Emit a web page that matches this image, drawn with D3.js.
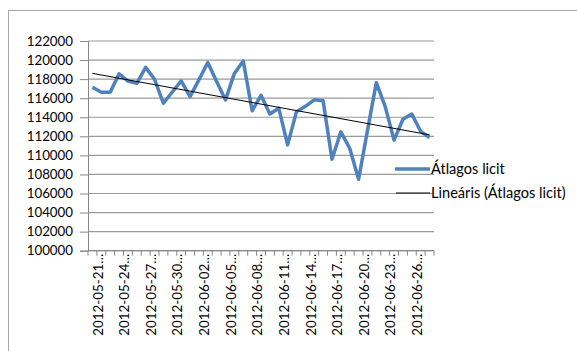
<!DOCTYPE html>
<html>
<head>
<meta charset="utf-8">
<script src="https://cdn.jsdelivr.net/npm/d3@7"></script>
<style>
  body { margin: 0; background: #fff; }
  svg { display: block; }
  text { font-family: Lato, "Open Sans", sans-serif; fill: #000; }
</style>
</head>
<body>
<script>
// napi dátumok 2012-05-21 .. 2012-06-28
const dates = [
  '2012-05-21', '2012-05-22', '2012-05-23', '2012-05-24', '2012-05-25', '2012-05-26',
  '2012-05-27', '2012-05-28', '2012-05-29', '2012-05-30', '2012-05-31', '2012-06-01',
  '2012-06-02', '2012-06-03', '2012-06-04', '2012-06-05', '2012-06-06', '2012-06-07',
  '2012-06-08', '2012-06-09', '2012-06-10', '2012-06-11', '2012-06-12', '2012-06-13',
  '2012-06-14', '2012-06-15', '2012-06-16', '2012-06-17', '2012-06-18', '2012-06-19',
  '2012-06-20', '2012-06-21', '2012-06-22', '2012-06-23', '2012-06-24', '2012-06-25',
  '2012-06-26', '2012-06-27', '2012-06-28'
];

const atlagosLicit = [
  117150, 116620, 116630, 118550, 117800, 117560, 119230, 117980, 115470, 116650,
  117810, 116170, 117920, 119740, 117740, 115820, 118600, 119900, 114680, 116300,
  114340, 114950, 111100, 114590, 115150, 115830, 115720, 109600, 112470, 110750,
  107500, 112600, 117630, 115120, 111600, 113790, 114340, 112500, 111880
];

const yTicks = [100000, 102000, 104000, 106000, 108000, 110000, 112000,
  114000, 116000, 118000, 120000, 122000];

const seriesName = 'Átlagos licit';
const trendName = 'Lineáris (Átlagos licit)';

const w = 577;
const h = 351;
const plotLeft = 88, plotRight = 434, plotTop = 41, plotBottom = 250.7;

const svg = d3.select('body').append('svg')
  .attr('width', w)
  .attr('height', h);

// külső keret
svg.append('rect')
  .attr('x', 8.5).attr('y', 10.5)
  .attr('width', 600).attr('height', 400)
  .attr('fill', 'none')
  .attr('stroke', '#a6a6a6')
  .attr('stroke-width', 1);

const x = d3.scaleBand()
  .domain(dates)
  .range([plotLeft, plotRight]);

const y = d3.scaleLinear()
  .domain([100000, 122000])
  .range([plotBottom, plotTop]);

// rácsvonalak
svg.append('g')
  .selectAll('line')
  .data(yTicks)
  .enter()
  .append('line')
  .attr('x1', plotLeft).attr('x2', plotRight)
  .attr('y1', d => y(d)).attr('y2', d => y(d))
  .attr('stroke', '#9a9a9a')
  .attr('stroke-width', 1.2);

const yAxis = d3.axisLeft(y)
  .tickValues(yTicks)
  .tickSize(8)
  .tickPadding(7)
  .tickFormat(d3.format('d'));

const gy = svg.append('g')
  .attr('transform', `translate(${plotLeft},0)`)
  .call(yAxis);
gy.select('.domain').attr('stroke', '#868686');
gy.selectAll('.tick line').attr('stroke', '#868686');
gy.selectAll('.tick text').attr('font-size', '13.3px').attr('font-family', 'Lato');

// x tengely
const gx = svg.append('g');
gx.append('line')
  .attr('x1', plotLeft).attr('x2', plotRight)
  .attr('y1', plotBottom).attr('y2', plotBottom)
  .attr('stroke', '#868686');

const boundaries = d3.range(dates.length + 1).map(i => plotLeft + i * x.step());
gx.selectAll('.xtick')
  .data(boundaries)
  .enter()
  .append('line')
  .attr('class', 'xtick')
  .attr('x1', d => d).attr('x2', d => d)
  .attr('y1', plotBottom).attr('y2', plotBottom + 5)
  .attr('stroke', '#868686');

const labelDates = dates.filter((d, i) => i % 3 === 0);
gx.selectAll('.xlabel')
  .data(labelDates)
  .enter()
  .append('text')
  .attr('class', 'xlabel')
  .attr('transform', d => `translate(${x(d) + x.bandwidth() / 2 + 5.5},${plotBottom + 3}) rotate(-90)`)
  .attr('text-anchor', 'end')
  .attr('dy', '0.35em')
  .attr('font-size', '13.4px')
  .text(d => d + '…');

// adatsor
const line = d3.line()
  .x((d, i) => x(dates[i]) + x.bandwidth() / 2)
  .y(d => y(d));

svg.append('path')
  .datum(atlagosLicit)
  .attr('d', line)
  .attr('fill', 'none')
  .attr('stroke', '#4f81bd')
  .attr('stroke-width', 3.5)
  .attr('stroke-linejoin', 'round');

// lineáris trendvonal (legkisebb négyzetek)
const n = atlagosLicit.length;
const idx = d3.range(1, n + 1);
const mx = d3.mean(idx);
const my = d3.mean(atlagosLicit);
const slope = d3.sum(idx, (k, i) => (k - mx) * (atlagosLicit[i] - my)) /
  d3.sum(idx, k => (k - mx) * (k - mx));
const intercept = my - slope * mx;
const trend = idx.map(k => intercept + slope * k);

svg.append('path')
  .datum([trend[0], trend[n - 1]])
  .attr('d', d3.line()
    .x((d, i) => x(dates[i === 0 ? 0 : n - 1]) + x.bandwidth() / 2)
    .y(d => y(d)))
  .attr('fill', 'none')
  .attr('stroke', '#000')
  .attr('stroke-width', 1);

// jelmagyarázat
const legend = svg.append('g');
legend.append('line')
  .attr('x1', 395).attr('x2', 430)
  .attr('y1', 169).attr('y2', 169)
  .attr('stroke', '#4f81bd')
  .attr('stroke-width', 3.5);
legend.append('text')
  .attr('x', 431).attr('y', 169)
  .attr('dy', '0.35em')
  .attr('font-size', '14.6px')
  .text(seriesName);
legend.append('line')
  .attr('x1', 396).attr('x2', 430)
  .attr('y1', 193).attr('y2', 193)
  .attr('stroke', '#000')
  .attr('stroke-width', 1);
legend.append('text')
  .attr('x', 431).attr('y', 193)
  .attr('dy', '0.35em')
  .attr('font-size', '14.6px')
  .text(trendName);
</script>
</body>
</html>
